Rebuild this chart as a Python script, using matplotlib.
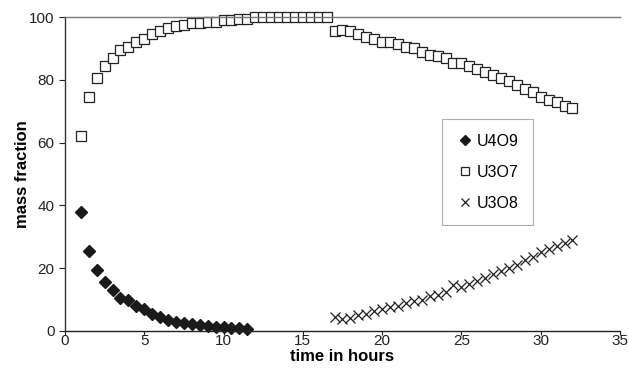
import matplotlib.pyplot as plt
import numpy as np

plt.rcParams["font.family"] = ["Liberation Sans", "DejaVu Sans"]

# time in hours for each series
T_U4O9 = [1, 1.5, 2, 2.5, 3, 3.5, 4, 4.5, 5, 5.5, 6, 6.5, 7, 7.5, 8, 8.5, 9, 9.5, 10, 10.5, 11, 11.5]
U4O9 = [38, 25.5, 19.5, 15.5, 13, 10.5, 10, 8, 7, 5.5, 4.5, 3.5, 3, 2.5, 2.2, 2, 1.5, 1.2, 1.2, 1, 0.8, 0.5]

T_U3O7 = [1, 1.5, 2, 2.5, 3, 3.5, 4, 4.5, 5, 5.5, 6, 6.5, 7, 7.5, 8, 8.5, 9, 9.5, 10, 10.5,
          11, 11.5, 12, 12.5, 13, 13.5, 14, 14.5, 15, 15.5, 16, 16.5,
          17, 17.5, 18, 18.5, 19, 19.5, 20, 20.5, 21, 21.5, 22, 22.5, 23, 23.5, 24, 24.5,
          25, 25.5, 26, 26.5, 27, 27.5, 28, 28.5, 29, 29.5, 30, 30.5, 31, 31.5, 32]
U3O7 = [62, 74.5, 80.5, 84.5, 87, 89.5, 90.5, 92, 93, 94.5, 95.5, 96.5, 97, 97.5, 98, 98, 98.5, 98.5, 99, 99,
        99.5, 99.5, 100, 100, 100, 100, 100, 100, 100, 100, 100, 100,
        95.5, 96, 95.5, 94.5, 93.5, 93, 92, 92, 91.5, 90.5, 90, 89, 88, 87.5, 87, 85.5,
        85.5, 84.5, 83.5, 82.5, 81.5, 80.5, 79.5, 78.5, 77, 76, 74.5, 73.5, 73, 71.5, 71]

T_U3O8 = [17, 17.5, 18, 18.5, 19, 19.5, 20, 20.5, 21, 21.5, 22, 22.5, 23, 23.5, 24, 24.5,
          25, 25.5, 26, 26.5, 27, 27.5, 28, 28.5, 29, 29.5, 30, 30.5, 31, 31.5, 32]
U3O8 = [4.5, 3.8, 4, 5, 5.5, 6.5, 7, 7.5, 8, 9, 9.5, 10, 11, 11.5, 12.5, 14.5,
        14, 15, 16, 17, 18, 19, 20, 21, 22.5, 23.5, 25, 26, 27, 28, 29]

X_TICKS = [0, 5, 10, 15, 20, 25, 30, 35]
Y_TICKS = [0, 20, 40, 60, 80, 100]

fig = plt.figure(figsize=(6.29, 3.83), dpi=100)
ax = fig.add_axes([0.1033, 0.1358, 0.8824, 0.8198])

ax.plot(T_U4O9, U4O9, linestyle="none", marker="D", markersize=6, color="#1a1a1a",
        label="U4O9", clip_on=False)
ax.plot(T_U3O7, U3O7, linestyle="none", marker="s", markersize=6.5, markerfacecolor="white",
        markeredgecolor="#222222", markeredgewidth=0.9, label="U3O7", clip_on=False)
ax.plot(T_U3O8, U3O8, linestyle="none", marker="x", markersize=7, color="#222222",
        markeredgewidth=0.9, label="U3O8", clip_on=False)

ax.set_xlim(0, 35)
ax.set_ylim(0, 100)
ax.set_xticks(X_TICKS)
ax.set_yticks(Y_TICKS)
ax.tick_params(direction="out", length=4, width=0.8, labelsize=11, colors="#222222")
ax.tick_params(axis="x", length=3, pad=-1)
ax.set_xlabel("time in hours", fontsize=12, fontweight="bold", labelpad=1)
ax.set_ylabel("mass fraction", fontsize=12, fontweight="bold", labelpad=-1)

ax.spines["right"].set_visible(False)
ax.spines["top"].set_color("#777777")
ax.spines["left"].set_color("#333333")
ax.spines["bottom"].set_color("#222222")
for side in ("top", "left", "bottom"):
    ax.spines[side].set_linewidth(1.0)

leg = ax.legend(loc="upper left", bbox_to_anchor=(0.664, 0.7), fontsize=11.5, frameon=True,
                fancybox=False, edgecolor="#999999", handletextpad=0.1, handlelength=1.2,
                labelspacing=1.0, borderpad=0.9, markerscale=0.8)
leg.get_frame().set_linewidth(0.8)

fig.savefig("out.png", dpi=100, facecolor="white")
